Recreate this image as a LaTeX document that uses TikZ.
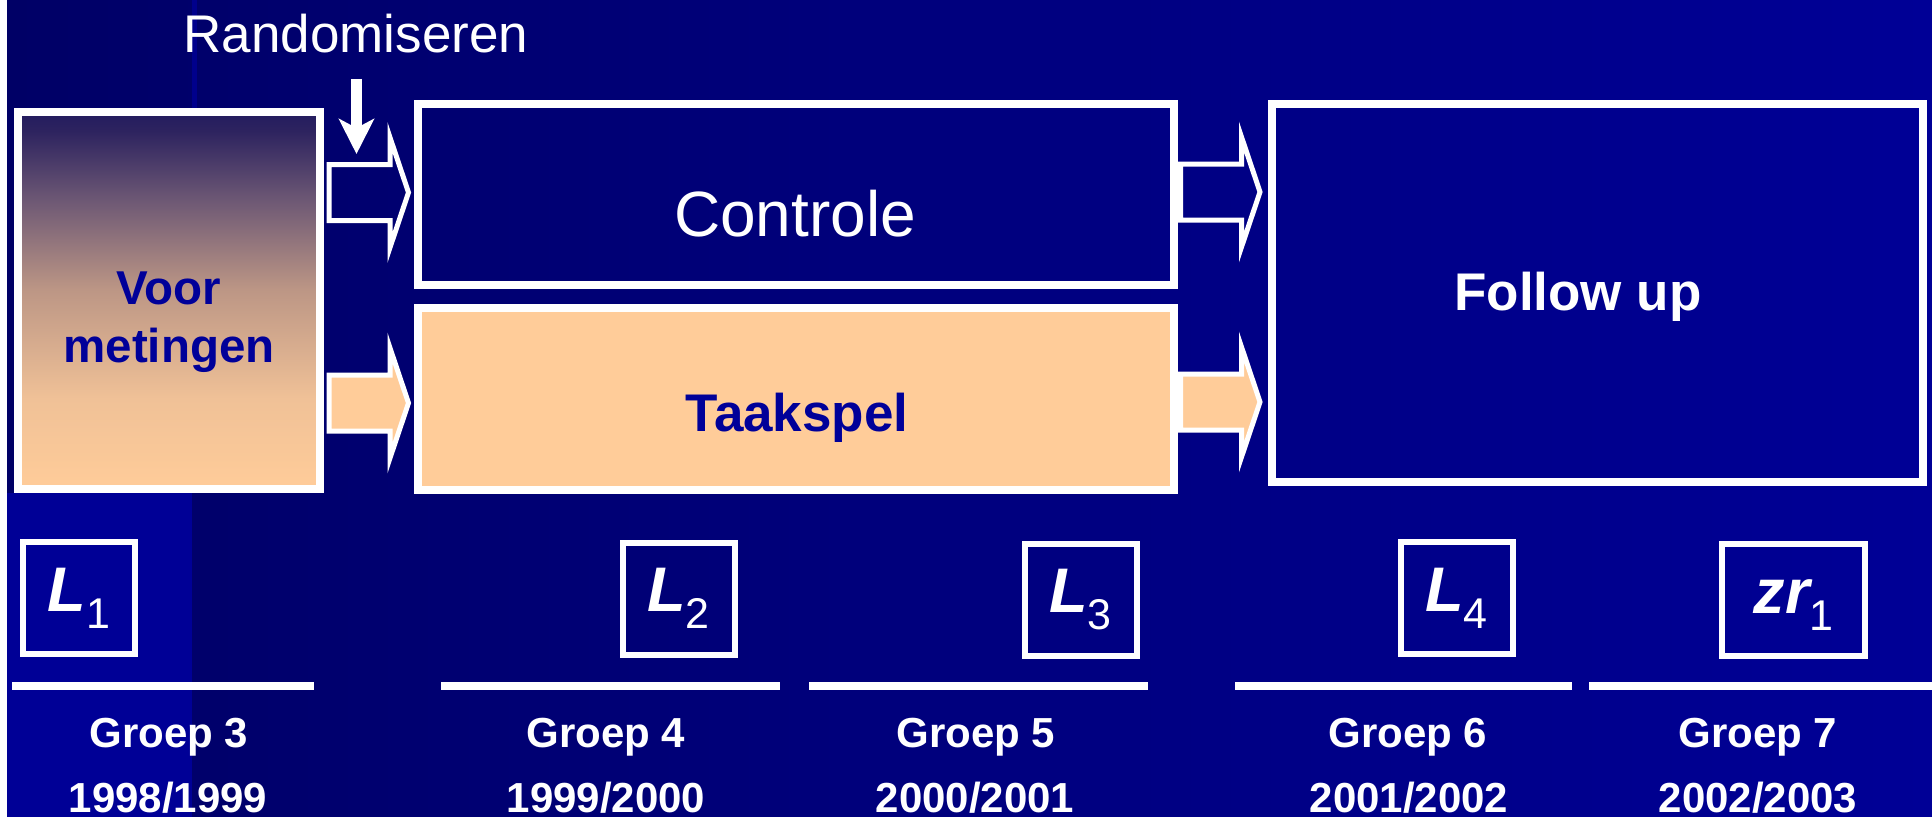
\documentclass[tikz,border=0pt]{standalone}
\usepackage{fontspec}
\setmainfont{Liberation Sans}
\usetikzlibrary{arrows.meta,calc}
\definecolor{bgL}{RGB}{0,0,102}
\definecolor{bgR}{RGB}{0,0,150}
\definecolor{stripe}{RGB}{0,0,140}
\definecolor{peach}{RGB}{255,204,153}
\definecolor{navytext}{RGB}{0,0,153}
\definecolor{voortop}{RGB}{35,28,95}
\definecolor{vcA}{RGB}{240,193,151}
\definecolor{vcB}{RGB}{188,150,133}
\definecolor{vcC}{RGB}{108,87,116}
\definecolor{vcD}{RGB}{45,35,95}
\pgfdeclareverticalshading{voorshade}{100bp}{color(0bp)=(peach); color(25bp)=(peach); color(37bp)=(vcA); color(51.5bp)=(vcB); color(63.5bp)=(vcC); color(72.5bp)=(vcD); color(75bp)=(voortop); color(100bp)=(voortop)}
\newcommand\myfs[1]{\fontsize{#1bp}{#1bp}\selectfont}
\tikzset{
  wbox/.style={draw=white, line width=8bp, inner sep=0pt},
  lbox/.style={draw=white, line width=6bp, inner sep=0pt, minimum width=112bp, minimum height=112bp, text=white, font={\myfs{63}}},
  lbl/.style={inner sep=0pt, anchor=base},
  rulel/.style={draw=white, line width=8bp},
  grp/.style={lbl, text=white, font={\myfs{42}\bfseries}},
  blockarrow/.pic={\path[pic actions] (0,-28) -- (61,-28) -- (61,-55) -- (79.5,0) -- (61,55) -- (61,28) -- (0,28) -- cycle;},
  barrowstyle/.style={draw=white, line width=5bp, miter limit=10}
}
\newcommand\subs[1]{\raisebox{-17bp}{\myfs{43}#1}}
\begin{document}
\begin{tikzpicture}[x=1bp,y=-1bp]
\useasboundingbox (0,0) rectangle (1932,817);
% background
\fill[white] (0,0) rectangle (1932,817);
\shade[left color=bgL, right color=bgR] (7,0) rectangle (1932,817);
\fill[bgR] (7,493) rectangle (192,817);
\fill[stripe] (192,0) rectangle (197,493);

% title
\node[lbl, text=white, font={\myfs{53}}] (rand) at (356,53) {Randomiseren};
\coordinate (rtop) at (356.5,79);
\coordinate (rtip) at (356.5,154);
\draw[white, line width=11bp, -{Stealth[length=35bp, width=35bp, inset=9bp]}] (rtop) -- (rtip);

% boxes
\node[wbox, minimum width=302bp, minimum height=377bp, shade, shading=voorshade] (voor) at (169,300.5) {};
\node[wbox, minimum width=756bp, minimum height=181bp] (controle) at (796,194.5) {};
\node[wbox, minimum width=756bp, minimum height=182bp, fill=peach] (taakspel) at (796,399) {};
\node[wbox, minimum width=651bp, minimum height=378bp] (follow) at (1597.5,293) {};

% box texts
\node[lbl, text=navytext, font={\myfs{47.5}\bfseries}] (voor1) at (169,304) {Voor};
\node[lbl, text=navytext, font={\myfs{47.5}\bfseries}] (voor2) at (169,362) {metingen};
\node[lbl, text=white, font={\myfs{64}}] (controletxt) at (795,236) {Controle};
\node[lbl, text=navytext, font={\myfs{53}\bfseries}] (taakspeltxt) at (797,431) {Taakspel};
\node[lbl, text=white, font={\myfs{53}\bfseries}] (followtxt) at (1578,310) {Follow up};

% block arrows
\coordinate (a1) at ($(voor.east |- controle.center)+(5,-2)$);
\coordinate (a2) at ($(voor.east |- taakspel.center)+(5,4)$);
\coordinate (a3) at ($(controle.east)+(2.5,-2.5)$);
\coordinate (a4) at ($(taakspel.east)+(2.5,3)$);
\pic[barrowstyle] at (a1) {blockarrow};
\pic[barrowstyle, fill=peach] at (a2) {blockarrow};
\pic[barrowstyle] at (a3) {blockarrow};
\pic[barrowstyle, fill=peach] at (a4) {blockarrow};

% measurement boxes
\node[lbox] (l1) at (79,598) {{\bfseries\itshape L}\subs{1}};
\node[lbox] (l2) at (678.5,598.5) {{\bfseries\itshape L}\subs{2}};
\node[lbox] (l3) at (1080.5,599.5) {{\bfseries\itshape L}\subs{3}};
\node[lbox] (l4) at (1456.5,598) {{\bfseries\itshape L}\subs{4}};
\node[lbox, minimum width=143bp] (zr1) at (1793.5,600) {\vphantom{L}{\bfseries\itshape zr}\subs{1}};

% time rules
\draw[rulel] (12,686) -- (314,686);
\draw[rulel] (441,686) -- (780,686);
\draw[rulel] (809,686) -- (1148,686);
\draw[rulel] (1235,686) -- (1572,686);
\draw[rulel] (1589,686) -- (1932,686);

% groups and years
\node[grp] (g3) at (169,747) {Groep 3};
\node[grp] (g4) at (606,747) {Groep 4};
\node[grp] (g5) at (976,747) {Groep 5};
\node[grp] (g6) at (1408,747) {Groep 6};
\node[grp] (g7) at (1758,747) {Groep 7};
\node[grp] (y3) at (168,812) {1998/1999};
\node[grp] (y4) at (606,812) {1999/2000};
\node[grp] (y5) at (975,812) {2000/2001};
\node[grp] (y6) at (1409,812) {2001/2002};
\node[grp] (y7) at (1758,812) {2002/2003};
\end{tikzpicture}
\end{document}
